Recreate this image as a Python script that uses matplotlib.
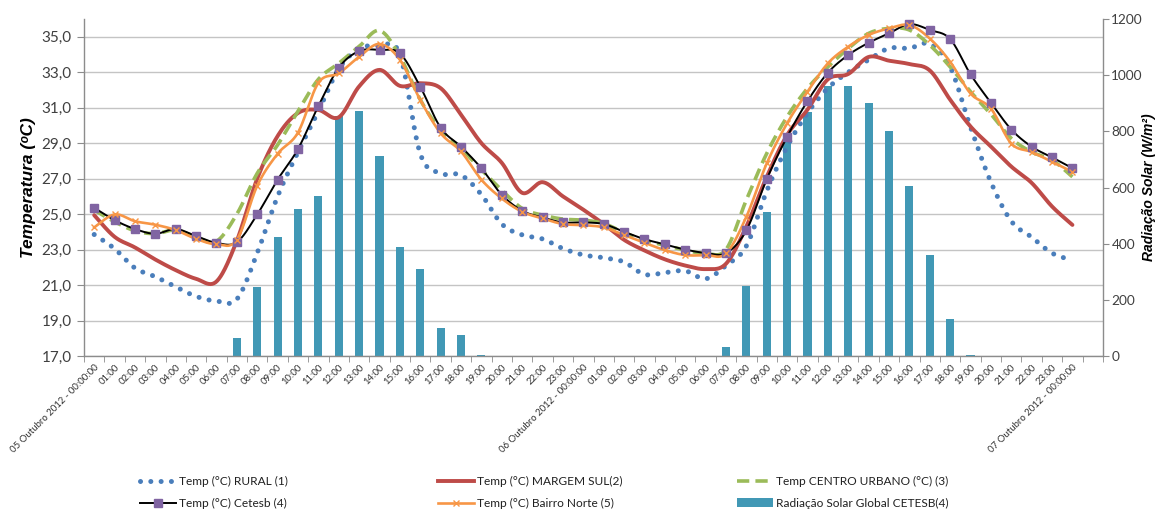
import numpy as np
import matplotlib
matplotlib.use("Agg")
import matplotlib.pyplot as plt
from matplotlib.lines import Line2D
from matplotlib.patches import Patch

# ---------------- data ----------------
hours = [f"{h:02d}:00" for h in range(1, 24)]
x_labels = (["05 Outubro 2012 - 00:00:00"] + hours +
            ["06 Outubro 2012 - 00:00:00"] + hours +
            ["07 Outubro 2012 - 00:00:00", ""])

rural = [23.85, 23.05, 21.96, 21.47, 20.9, 20.36, 20.1, 20.2, 22.8, 26.0,
         28.5, 30.8, 33.2, 34.3, 34.5, 34.0, 28.4, 27.3, 27.2, 26.1,
         24.44, 23.83, 23.6, 23.06, 22.7, 22.54, 22.3, 21.6, 21.7, 21.8,
         21.35, 22.1, 23.2, 26.3, 28.8, 30.7, 32.1, 33.0, 33.7, 34.35,
         34.35, 34.6, 33.3, 29.9, 26.8, 24.6, 23.7, 22.8, 22.4]

margem_sul = [24.94, 23.72, 23.12, 22.44, 21.84, 21.35, 21.2, 23.5, 27.0, 29.4,
              30.7, 30.87, 30.46, 32.2, 33.13, 32.23, 32.38, 32.1, 30.6, 29.0,
              27.89, 26.2, 26.8, 26.0, 25.25, 24.44, 23.55, 22.95, 22.45, 22.1,
              21.9, 22.2, 24.3, 27.1, 29.46, 30.89, 32.6, 32.9, 33.86, 33.65,
              33.46, 33.1, 31.45, 29.94, 28.81, 27.68, 26.76, 25.43, 24.39]

centro_urbano = [25.23, 24.57, 24.06, 23.9, 24.1, 23.7, 23.47, 25.0, 27.3, 28.9,
                 30.8, 32.6, 33.5, 34.45, 35.35, 33.9, 31.45, 29.74, 28.7, 27.5,
                 26.35, 25.32, 24.94, 24.72, 24.66, 24.47, 23.96, 23.53, 23.25, 22.97,
                 22.78, 23.0, 25.8, 28.42, 30.49, 32.09, 33.3, 34.34, 35.19, 35.47,
                 35.38, 34.53, 33.3, 31.9, 30.64, 29.27, 28.5, 28.05, 27.1]

cetesb = [25.36, 24.66, 24.16, 23.89, 24.16, 23.76, 23.38, 23.42, 24.98, 26.94,
          28.67, 31.09, 33.25, 34.19, 34.25, 34.06, 32.18, 29.87, 28.80, 27.58,
          26.09, 25.19, 24.81, 24.53, 24.53, 24.44, 24.0, 23.59, 23.29, 23.0,
          22.81, 22.8, 24.08, 26.97, 29.36, 31.37, 32.97, 33.97, 34.66, 35.19,
          35.71, 35.38, 34.87, 32.88, 31.28, 29.77, 28.80, 28.20, 27.59]

bairro_norte = [24.25, 24.98, 24.6, 24.4, 24.1, 23.6, 23.3, 23.55, 26.6, 28.4,
                29.6, 32.4, 32.94, 33.87, 34.59, 33.7, 31.44, 29.56, 28.53, 26.94,
                25.88, 25.13, 24.76, 24.44, 24.38, 24.25, 23.82, 23.38, 22.97, 22.69,
                22.69, 22.78, 24.85, 27.86, 30.12, 31.9, 33.5, 34.44, 35.1, 35.47,
                35.66, 34.9, 33.59, 31.8, 30.95, 28.98, 28.5, 27.95, 27.38]

radiacao = [0, 0, 0, 0, 0, 0, 0, 64, 245, 425,
            523, 570, 855, 872, 712, 388, 309, 100, 75, 4,
            1, 0, 0, 0, 0, 0, 0, 0, 0, 0,
            0, 33, 250, 513, 767, 868, 961, 961, 900, 801,
            605, 359, 132, 4, 0, 0, 0, 0, 0]

temp_ticks = [17, 19, 21, 23, 25, 27, 29, 31, 33, 35]
rad_ticks = [0, 200, 400, 600, 800, 1000, 1200]

# ---------------- helpers ----------------
def smooth(xv, yv, n=24):
    pts = np.column_stack([xv, yv]).astype(float)
    out = []
    t = np.linspace(0, 1, n, endpoint=False)[:, None]
    for i in range(len(pts) - 1):
        p0 = pts[i - 1] if i > 0 else pts[i]
        p1, p2 = pts[i], pts[i + 1]
        p3 = pts[i + 2] if i + 2 < len(pts) else pts[i + 1]
        c1 = p1 + (p2 - p0) / 6.0
        c2 = p2 - (p3 - p1) / 6.0
        seg = ((1 - t) ** 3) * p1 + 3 * ((1 - t) ** 2) * t * c1 + 3 * (1 - t) * (t ** 2) * c2 + (t ** 3) * p2
        out.append(seg)
    out.append(pts[-1:])
    s = np.vstack(out)
    return s[:, 0], s[:, 1]

# ---------------- figure ----------------
W, H = 1157, 516
fig = plt.figure(figsize=(W / 100, H / 100), dpi=100)
L, R, T, B = 84, 1103, 19, 356
ax = fig.add_axes([L / W, 1 - B / H, (R - L) / W, (B - T) / H])
ax2 = ax.twinx()
ax.set_zorder(2)
ax2.set_zorder(1)
ax.patch.set_visible(False)

FONT = ["Lato", "DejaVu Sans"]
tick_col = "#404040"
axis_col = "#8C8C8C"
grid_col = "#C4C4C4"

col_rural = "#4A7EBB"
col_red = "#BE4B48"
col_green = "#9BBB59"
col_purple = "#8064A2"
col_orange = "#F79646"
col_bar = "#4198B5"

n = len(cetesb)
xs = np.arange(n)

# bars (right axis)
ax2.bar(xs, radiacao, width=0.4, color=col_bar, zorder=2)
ax2.set_ylim(0, 1200)
ax2.set_yticks(rad_ticks)
ax2.set_yticklabels([str(v) for v in rad_ticks], fontsize=9.8, color=tick_col, family=FONT)
# gridlines at temperature ticks, drawn under the bars
ax2.hlines(temp_ticks, 0, 1, transform=ax.get_yaxis_transform(), colors=grid_col,
           linewidth=1.0, zorder=0)

# lines (left axis)
sx, sy = smooth(xs, rural)
ax.plot(sx, sy, color=col_rural, lw=3.6, linestyle=(0, (0.01, 2.05)),
        dash_capstyle="round", zorder=3)
sx, sy = smooth(xs, margem_sul)
ax.plot(sx, sy, color=col_red, lw=2.8, solid_capstyle="round", zorder=3)
sx, sy = smooth(xs, centro_urbano)
ax.plot(sx, sy, color=col_green, lw=2.6, linestyle=(0, (3.4, 1.7)), zorder=4)
sx, sy = smooth(xs, cetesb)
ax.plot(sx, sy, color="black", lw=1.4, zorder=5)
ax.plot(xs, cetesb, linestyle="none", marker="s", markersize=5.5,
        markerfacecolor=col_purple, markeredgecolor=col_purple, zorder=6)
sx, sy = smooth(xs, bairro_norte)
ax.plot(sx, sy, color=col_orange, lw=1.9, zorder=5)
ax.plot(xs, bairro_norte, linestyle="none", marker="x", markersize=5,
        markeredgecolor=col_orange, markeredgewidth=1.0, zorder=6)

ax.set_ylim(17, 36)
ax.set_yticks(temp_ticks)
ax.set_yticklabels([f"{v:.1f}".replace(".", ",") for v in temp_ticks],
                   fontsize=11, color=tick_col, family=FONT)
ax.set_xlim(-0.5, 49.5)
ax.set_xticks(np.arange(len(x_labels)))
ax.set_xticklabels(x_labels, rotation=45, ha="right", va="top",
                   rotation_mode="anchor", fontsize=6.9, color="#303030", family=FONT)
ax.set_xticks(np.arange(-0.5, 50, 1), minor=True)
ax.tick_params(axis="x", which="major", length=0, pad=5)
ax.tick_params(axis="x", which="minor", length=4, color=axis_col, direction="out")
ax.tick_params(axis="y", length=5, color=axis_col, pad=4)
ax2.tick_params(axis="y", length=4, color=axis_col, pad=2)

for a in (ax, ax2):
    a.spines["top"].set_visible(False)
    for s in ("left", "right", "bottom"):
        a.spines[s].set_color(axis_col)
        a.spines[s].set_linewidth(1.0)
ax.spines["right"].set_visible(False)
ax2.spines["left"].set_visible(False)
ax2.spines["bottom"].set_visible(False)

ax.set_ylabel("Temperatura (ᵒC)", fontsize=12.5, fontweight="bold", fontstyle="italic",
              family=["Liberation Sans", "DejaVu Sans"], labelpad=4)
ax2.set_ylabel("Radiação Solar (W/m²)", fontsize=10, fontweight="bold", fontstyle="italic",
               family=["Liberation Sans", "DejaVu Sans"])
ax2.yaxis.set_label_coords((1142 - L) / (R - L), 0.5)

# legend
h_rural = Line2D([], [], color=col_rural, lw=3.6, linestyle=(0, (0.01, 2.05)), dash_capstyle="round")
h_red = Line2D([], [], color=col_red, lw=2.8)
h_green = Line2D([], [], color=col_green, lw=2.6, linestyle=(0, (3.4, 1.7)))
h_cet = Line2D([], [], color="black", lw=1.4, marker="s", markersize=5.5,
               markerfacecolor=col_purple, markeredgecolor=col_purple)
h_bn = Line2D([], [], color=col_orange, lw=1.9, marker="x", markersize=5,
              markeredgecolor=col_orange)
h_bar = Patch(facecolor=col_bar, edgecolor="none")

leg_kw = dict(frameon=False, prop={"family": FONT, "size": 8.6}, handlelength=3.0,
              handletextpad=0.3, labelspacing=0.9, borderaxespad=0, borderpad=0,
              labelcolor="#202020")
cols = [((h_rural, h_cet), ("Temp (°C) RURAL (1)", "Temp (°C) Cetesb (4)"), 140),
        ((h_red, h_bn), ("Temp (°C) MARGEM SUL(2)", "Temp (°C) Bairro Norte (5)"), 438),
        ((h_green, h_bar), ("Temp CENTRO URBANO (°C) (3)", "Radiação Solar Global CETESB(4)"), 737)]
for hs, ls, xpix in cols:
    fig.legend(hs, ls, loc="upper left", bbox_to_anchor=(xpix / W, 1 - 476 / H), **leg_kw)

fig.savefig("out.png", dpi=100)
